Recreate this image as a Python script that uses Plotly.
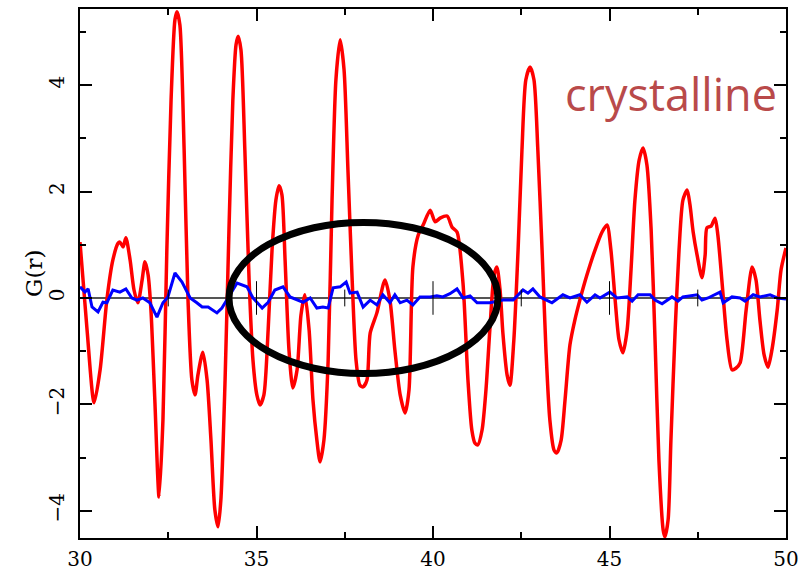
import plotly.graph_objects as go

# ---- data: crystalline G(r) (red) ----
r_cryst = [30.00, 30.20, 30.40, 30.57, 30.76, 30.93, 31.08, 31.13, 31.22, 31.30, 31.42, 31.53, 31.64, 31.76,
           31.84, 31.93, 32.01, 32.12, 32.24, 32.35, 32.46, 32.58, 32.69, 32.75, 32.83, 32.95, 33.06, 33.17,
           33.26, 33.34, 33.48, 33.60, 33.71, 33.82, 33.91, 33.99, 34.11, 34.22, 34.33, 34.42, 34.48, 34.56,
           34.67, 34.79, 34.90, 35.01, 35.10, 35.21, 35.33, 35.44, 35.55, 35.64, 35.72, 35.81, 35.92, 36.03,
           36.15, 36.26, 36.37, 36.49, 36.60, 36.71, 36.80, 36.91, 37.03, 37.14, 37.25, 37.37, 37.48, 37.59,
           37.71, 37.82, 37.93, 38.02, 38.13, 38.22, 38.41, 38.64, 38.78, 38.92, 39.07, 39.21, 39.32, 39.43,
           39.58, 39.72, 39.92, 40.06, 40.20, 40.40, 40.54, 40.68, 40.85, 40.99, 41.10, 41.19, 41.27, 41.39,
           41.50, 41.61, 41.73, 41.81, 41.90, 41.98, 42.10, 42.18, 42.29, 42.41, 42.52, 42.63, 42.75, 42.86,
           42.97, 43.09, 43.20, 43.31, 43.43, 43.51, 43.63, 43.74, 43.88, 44.02, 44.16, 44.36, 44.59, 44.79,
           44.93, 45.04, 45.16, 45.27, 45.38, 45.50, 45.61, 45.72, 45.84, 45.95, 46.06, 46.18, 46.29, 46.40,
           46.52, 46.57, 46.66, 46.74, 46.86, 46.97, 47.08, 47.20, 47.28, 47.37, 47.48, 47.62, 47.71, 47.76,
           47.88, 47.99, 48.07, 48.19, 48.33, 48.47, 48.58, 48.70, 48.87, 49.04, 49.15, 49.26, 49.38, 49.49,
           49.60, 49.75, 49.86, 50.00]
g_cryst = [1.05, -0.60, -1.97, -1.35, -0.04, 0.71, 1.03, 1.05, 0.96, 1.13, 0.71, 0.15, -0.09, 0.34,
           0.68, 0.43, -0.23, -1.92, -3.74, -2.29, 0.90, 3.72, 5.23, 5.38, 5.13, 2.78, -0.04, -1.54,
           -1.82, -1.45, -1.02, -1.54, -2.67, -3.98, -4.30, -3.80, -1.54, 1.28, 3.72, 4.76, 4.92, 4.66,
           2.78, 0.34, -1.17, -1.82, -2.01, -1.82, -0.60, 0.90, 1.84, 2.11, 1.94, 0.71, -0.98, -1.69,
           -1.35, -0.32, 0.06, -0.60, -1.92, -2.67, -3.08, -2.67, -1.17, 1.84, 4.10, 4.85, 4.29, 2.41,
           0.34, -1.17, -1.64, -1.67, -1.54, -0.66, -0.28, 0.34, -0.04, -0.98, -1.82, -2.16, -1.73, 0.58,
           1.18, 1.37, 1.65, 1.43, 1.50, 1.54, 1.33, 1.24, 0.28, -1.54, -2.48, -2.73, -2.76, -2.48,
           -1.73, -0.60, 0.43, 0.58, 0.15, -0.66, -1.45, -1.64, -0.79, 0.90, 2.78, 4.10, 4.34, 4.10,
           2.78, 0.90, -0.98, -2.29, -2.86, -2.91, -2.67, -1.92, -0.88, -0.41, -0.04, 0.43, 0.90, 1.24,
           1.37, 0.90, -0.04, -0.79, -1.03, -0.60, 0.53, 1.84, 2.59, 2.82, 2.50, 1.28, -0.79, -3.05,
           -4.36, -4.49, -4.17, -2.67, -0.60, 0.90, 1.84, 2.03, 1.75, 1.24, 0.81, 0.38, 0.81, 1.32,
           1.35, 1.50, 1.18, 0.28, -0.79, -1.35, -1.32, -1.22, -0.23, 0.58, 0.34, -0.41, -1.07, -1.30,
           -0.98, -0.23, 0.53, 0.94]

# ---- data: amorphous / difference G(r) (blue) ----
r_amor = [30.00, 30.14, 30.23, 30.34, 30.51, 30.65, 30.76, 30.93, 31.13, 31.30, 31.47, 31.61, 31.78, 31.98,
          32.18, 32.35, 32.49, 32.69, 32.89, 33.12, 33.31, 33.46, 33.63, 33.88, 34.02, 34.19, 34.45, 34.73,
          34.90, 35.16, 35.33, 35.52, 35.75, 35.95, 36.15, 36.32, 36.52, 36.71, 36.88, 37.03, 37.17, 37.37,
          37.54, 37.65, 37.85, 38.02, 38.22, 38.41, 38.58, 38.78, 38.92, 39.07, 39.26, 39.43, 39.63, 39.92,
          40.11, 40.28, 40.48, 40.68, 40.85, 41.05, 41.25, 41.61, 41.98, 42.27, 42.55, 42.69, 42.83, 43.03,
          43.37, 43.68, 43.88, 44.16, 44.36, 44.59, 44.73, 45.01, 45.21, 45.50, 45.64, 45.81, 46.15, 46.29,
          46.49, 46.77, 46.94, 47.08, 47.48, 47.62, 47.79, 48.13, 48.22, 48.47, 48.70, 48.84, 49.07, 49.26,
          49.55, 49.75, 50.00]
g_amor = [0.21, 0.11, 0.17, -0.17, -0.26, -0.08, -0.09, 0.15, 0.11, 0.17, 0.00, -0.04, 0.00, -0.09,
          -0.36, -0.09, 0.02, 0.47, 0.30, 0.00, -0.09, -0.17, -0.17, -0.28, -0.19, 0.00, 0.28, 0.21,
          0.00, -0.19, -0.08, 0.15, 0.21, 0.02, -0.04, -0.08, 0.00, -0.19, -0.17, -0.19, 0.19, 0.21,
          0.30, 0.09, 0.11, -0.17, -0.04, -0.13, 0.06, -0.09, 0.06, -0.09, -0.04, -0.13, 0.02, 0.02,
          0.04, 0.02, 0.08, 0.17, 0.00, 0.04, -0.09, -0.09, -0.04, -0.04, 0.15, 0.09, 0.17, 0.02,
          -0.09, 0.06, 0.00, 0.06, -0.08, 0.06, 0.00, 0.11, 0.00, 0.02, -0.06, 0.06, 0.06, -0.04,
          -0.11, 0.02, -0.06, 0.02, 0.06, -0.04, 0.00, 0.11, -0.09, 0.02, 0.00, -0.06, 0.06, 0.02,
          0.06, 0.00, -0.02]

x_ticks = [30, 35, 40, 45, 50]
x_minor = [32.5, 37.5, 42.5, 47.5]
y_ticks = [-4, -2, 0, 2, 4]
x_range = [30, 50]
y_range = [-4.51, 5.43]

label_text = "crystalline"
y_title = "G(r)"

serif = "DejaVu Serif"

fig = go.Figure()
fig.add_trace(go.Scatter(x=r_cryst, y=g_cryst, mode="lines",
                         line=dict(color="#ff0000", width=3.5, shape="spline", smoothing=0.7),
                         showlegend=False, hoverinfo="skip"))
fig.add_trace(go.Scatter(x=r_amor, y=g_amor, mode="lines",
                         line=dict(color="#0000ff", width=3),
                         showlegend=False, hoverinfo="skip"))

# tick marks crossing the zero line
fig.add_trace(go.Scatter(x=x_ticks[1:-1], y=[0] * len(x_ticks[1:-1]), mode="markers",
                         marker=dict(symbol="line-ns", size=24, line=dict(width=1, color="black")),
                         showlegend=False, hoverinfo="skip", cliponaxis=False))
fig.add_trace(go.Scatter(x=x_minor, y=[0] * len(x_minor), mode="markers",
                         marker=dict(symbol="line-ns", size=12, line=dict(width=1, color="black")),
                         showlegend=False, hoverinfo="skip", cliponaxis=False))

# ellipse highlight
ell_x = [34.22, 41.84]
ell_y = [-1.42, 1.42]
fig.add_shape(type="circle", xref="x", yref="y",
              x0=ell_x[0], x1=ell_x[1], y0=ell_y[0], y1=ell_y[1],
              line=dict(color="black", width=7), layer="above")

fig.add_annotation(text=label_text, xref="x", yref="y", x=49.8, y=3.85,
                   xanchor="right", yanchor="middle", showarrow=False,
                   font=dict(family="Open Sans", size=45, color="#b94a4a"))

# y-axis title as a rotated annotation
fig.add_annotation(text=y_title, xref="paper", yref="paper", x=-0.066, y=0.5,
                   xanchor="center", yanchor="middle", textangle=-90, showarrow=False,
                   font=dict(family=serif, size=23, color="black"))

fig.update_layout(
    width=812, height=575,
    margin=dict(l=80, r=26, t=9, b=37, autoexpand=False),
    paper_bgcolor="white", plot_bgcolor="white",
    xaxis=dict(range=x_range, showgrid=False, zeroline=False, automargin=False,
               tickmode="array", tickvals=x_ticks, ticktext=[str(v) for v in x_ticks],
               ticks="inside", ticklen=12, tickwidth=1.5, tickcolor="black",
               minor=dict(tickmode="array", tickvals=x_minor, ticks="inside", ticklen=6,
                          tickwidth=1.5, tickcolor="black", showgrid=False),
               showline=True, linewidth=2, linecolor="black", mirror="allticks",
               tickfont=dict(family=serif, size=20, color="black"), ticklabelstandoff=2),
    yaxis=dict(range=y_range, showgrid=False, zeroline=True, zerolinecolor="#555555", zerolinewidth=1.5,
               automargin=False,
               tickmode="array", tickvals=y_ticks, ticktext=[str(v).replace("-", "\u2212") for v in y_ticks],
               ticks="inside", ticklen=12, tickwidth=1.5, tickcolor="black",
               minor=dict(tickmode="linear", tick0=0, dtick=1, ticks="inside", ticklen=6,
                          tickwidth=1.5, tickcolor="black", showgrid=False),
               showline=True, linewidth=2, linecolor="black", mirror="allticks",
               tickangle=-90, tickfont=dict(family=serif, size=20, color="black"),
               ticklabelstandoff=6),
)

fig.write_html("out.html")
